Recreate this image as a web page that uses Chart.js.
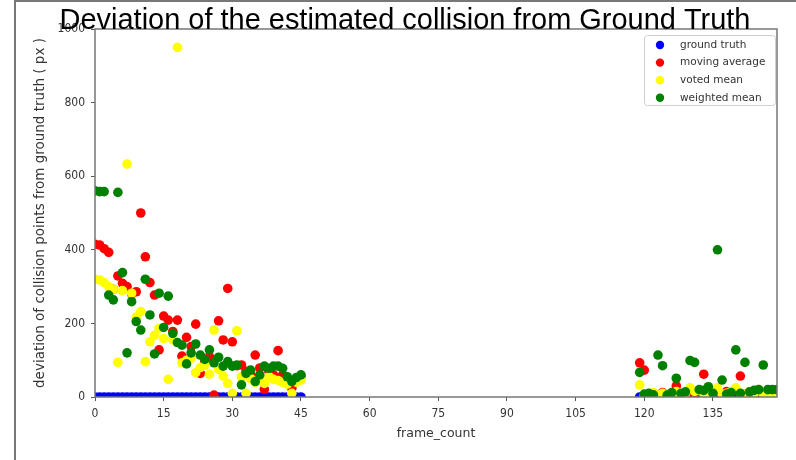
<!DOCTYPE html>
<html>
<head>
<meta charset="utf-8">
<script src="https://cdn.jsdelivr.net/npm/chart.js@4.4.1/dist/chart.umd.min.js"></script>
<style>
  html, body { margin: 0; padding: 0; background: #fff; }
  #wrap { position: relative; width: 796px; height: 460px; }
</style>
</head>
<body>
<div id="wrap"><canvas id="chart" width="796" height="460"></canvas></div>
<script>
// frame numbers (two recorded clips)
const frames = [
  0, 1, 2, 3, 4, 5, 6, 7, 8, 9, 10, 11, 12, 13, 14, 15, 16, 17, 18, 19, 20, 21, 22,
  23, 24, 25, 26, 27, 28, 29, 30, 31, 32, 33, 34, 35, 36, 37, 38, 39, 40, 41, 42, 43, 44, 45,
  119, 120, 121, 122, 123, 124, 125, 126, 127, 128, 129, 130, 131, 132, 133, 134,
  135, 136, 137, 138, 139, 140, 141, 142, 143, 144, 145, 146, 147, 148, 149,
];

const groundTruth = [
  0, 0, 0, 0, 0, 0, 0, 0, 0, 0, 0, 0, 0, 0, 0, 0, 0, 0, 0, 0, 0, 0, 0,
  0, 0, 0, 0, 0, 0, 0, 0, 0, 0, 0, 0, 0, 0, 0, 0, 0, 0, 0, 0, 0, 0, 0,
  0, 0, 0, 0, 0, 0, 0, 0, 0, 0, 0, 0, 0, 0, 0, 0,
  0, 0, 0, 0, 0, 0, 0, 0, 0, 0, 0, 0, 0, 0, 0,
];

const movingAverage = [
  415, 413, 403, 393, 293, 329, 309, 300, 280, 286, 500, 381, 311, 277, 128, 220, 209, 178, 209, 111, 162, 137, 198,
  64, 95, 110, 5, 207, 155, 295, 150, 85, 87, 70, 60, 114, 79, 21, 70, 60, 126, 60, 40, 24, 50, 57,
  93, 73, 8, 10, 5, 12, 6, 8, 30, 5, 10, 12, 8, 15, 62, 10,
  6, 12, 8, 15, 10, 20, 57, 8, 5, 10, 6, 4, 8, 5, 3,
];

const votedMean = [
  320, 318, 311, 300, 293, 94, 289, 633, 282, 217, 232, 96, 150, 168, 187, 159, 48, 155, 950, 93, 100, 105, 66,
  80, 87, 62, 182, 75, 57, 37, 10, 180, 55, 10, 50, 40, 45, 37, 55, 48, 45, 40, 35, 10, 40, 46,
  33, 5, 8, 12, 5, 10, 6, 8, 15, 5, 10, 25, 15, 18, 10, 8,
  12, 25, 8, 10, 15, 25, 10, 8, 15, 10, 20, 8, 10, 5, 8,
];

const weightedMean = [
  560, 558, 558, 277, 264, 556, 338, 120, 259, 205, 182, 320, 223, 117, 282, 189, 274, 173, 148, 141, 90, 120, 144,
  114, 102, 128, 93, 108, 84, 96, 84, 87, 33, 64, 73, 42, 60, 84, 78, 84, 84, 78, 55, 42, 53, 60,
  67, 8, 10, 6, 114, 85, 5, 12, 51, 10, 14, 99, 94, 20, 18, 28,
  10, 400, 46, 8, 12, 128, 10, 94, 14, 18, 20, 87, 20, 20, 20,
];

const xTicks = [0, 15, 30, 45, 60, 75, 90, 105, 120, 135];
const yTicks = [0, 200, 400, 600, 800, 1000];

const toPoints = (values) => values.map((v, i) => ({ x: frames[i], y: v }));

// page frame lines (left + top)
const pageFramePlugin = {
  id: "pageFrame",
  beforeDraw: (chart) => {
    const ctx = chart.ctx;
    ctx.save();
    ctx.fillStyle = "#fff";
    ctx.fillRect(0, 0, chart.width, chart.height);
    ctx.strokeStyle = "#777";
    ctx.lineWidth = 2;
    ctx.beginPath();
    ctx.moveTo(15, chart.height);
    ctx.lineTo(15, 1);
    ctx.lineTo(chart.width, 1);
    ctx.stroke();
    ctx.restore();
  },
};

// axes box + legend + big title
const decorPlugin = {
  id: "decor",
  afterDatasetsDraw: (chart) => {
    const { ctx, chartArea: { left, right, top, bottom } } = chart;
    ctx.save();
    ctx.strokeStyle = "#777";
    ctx.lineWidth = 1.5;
    ctx.strokeRect(left, top, right - left, bottom - top);
    ctx.restore();
  },
  afterDraw: (chart) => {
    const { ctx, chartArea: { right, top } } = chart;

    // legend box
    const items = chart.data.datasets.slice().reverse();
    const w = 131;
    const h = 70;
    const bx = right - 2 - w;
    const by = top + 6;
    ctx.save();
    ctx.fillStyle = "rgba(255,255,255,0.8)";
    ctx.strokeStyle = "#d0d0d0";
    ctx.lineWidth = 1;
    ctx.beginPath();
    ctx.roundRect(bx + 0.5, by + 0.5, w, h, 3);
    ctx.fill();
    ctx.stroke();
    ctx.font = "10.5px 'DejaVu Sans'";
    ctx.textBaseline = "middle";
    ctx.textAlign = "left";
    items.forEach((ds, i) => {
      const y = by + 10 + i * 17.6;
      ctx.fillStyle = ds.backgroundColor;
      ctx.beginPath();
      ctx.arc(bx + 16, y, 4.2, 0, Math.PI * 2);
      ctx.fill();
      ctx.fillStyle = "#333";
      ctx.fillText(ds.label, bx + 36, y);
    });
    ctx.restore();

    // figure title
    ctx.save();
    ctx.fillStyle = "#000";
    ctx.font = "30px 'Liberation Sans'";
    ctx.textAlign = "center";
    ctx.textBaseline = "alphabetic";
    ctx.translate(405, 29);
    ctx.scale(0.965, 1);
    ctx.fillText("Deviation of the estimated collision from Ground Truth", 0, 0);
    ctx.restore();
  },
};

const tickFont = { family: "'DejaVu Sans Condensed', 'DejaVu Sans'", size: 12 };

const ctx = document.getElementById("chart");
const chart = new Chart(ctx, {
  type: "scatter",
  data: {
    // index 0 is drawn last, so green sits on top like the original
    datasets: [
      { label: "weighted mean", data: toPoints(weightedMean), backgroundColor: "#008000" },
      { label: "voted mean", data: toPoints(votedMean), backgroundColor: "#ffff00" },
      { label: "moving average", data: toPoints(movingAverage), backgroundColor: "#ff0000" },
      { label: "ground truth", data: toPoints(groundTruth), backgroundColor: "#0000ff" },
    ].map((ds) => ({
      ...ds,
      pointRadius: 4.8,
      pointHoverRadius: 4.8,
      borderWidth: 0,
      pointBorderWidth: 0,
      clip: 0,
    })),
  },
  options: {
    responsive: false,
    devicePixelRatio: 1,
    animation: false,
    events: [],
    layout: {
      padding: { left: 0, right: 19, top: 29, bottom: 0 },
    },
    plugins: {
      legend: { display: false },
      tooltip: { enabled: false },
      title: { display: false },
    },
    scales: {
      x: {
        type: "linear",
        min: 0,
        max: 149,
        afterBuildTicks: (scale) => {
          scale.ticks = xTicks.map((v) => ({ value: v }));
        },
        afterFit: (scale) => {
          scale.height = 63;
        },
        grid: {
          drawOnChartArea: false,
          drawTicks: true,
          tickLength: 4,
          color: "#555",
        },
        border: { display: false },
        ticks: {
          color: "#333",
          padding: 6,
          maxRotation: 0,
          font: tickFont,
          callback: (v) => String(v),
        },
        title: {
          display: true,
          text: "frame_count",
          color: "#333",
          font: { family: "'DejaVu Sans'", size: 12.5 },
          padding: { top: 0, bottom: 19 },
        },
      },
      y: {
        min: 0,
        max: 1000,
        afterBuildTicks: (scale) => {
          scale.ticks = yTicks.map((v) => ({ value: v }));
        },
        afterFit: (scale) => {
          scale.width = 95;
        },
        grid: {
          drawOnChartArea: false,
          drawTicks: true,
          tickLength: 4,
          color: "#555",
        },
        border: { display: false },
        ticks: {
          color: "#333",
          padding: 6,
          font: tickFont,
          callback: (v) => String(v),
        },
        title: {
          display: true,
          text: "deviation of collision points from ground truth ( px )",
          color: "#333",
          font: { family: "'DejaVu Sans'", size: 13.5 },
          padding: { top: 32, bottom: 0 },
        },
      },
    },
  },
  plugins: [pageFramePlugin, decorPlugin],
});
</script>
</body>
</html>
